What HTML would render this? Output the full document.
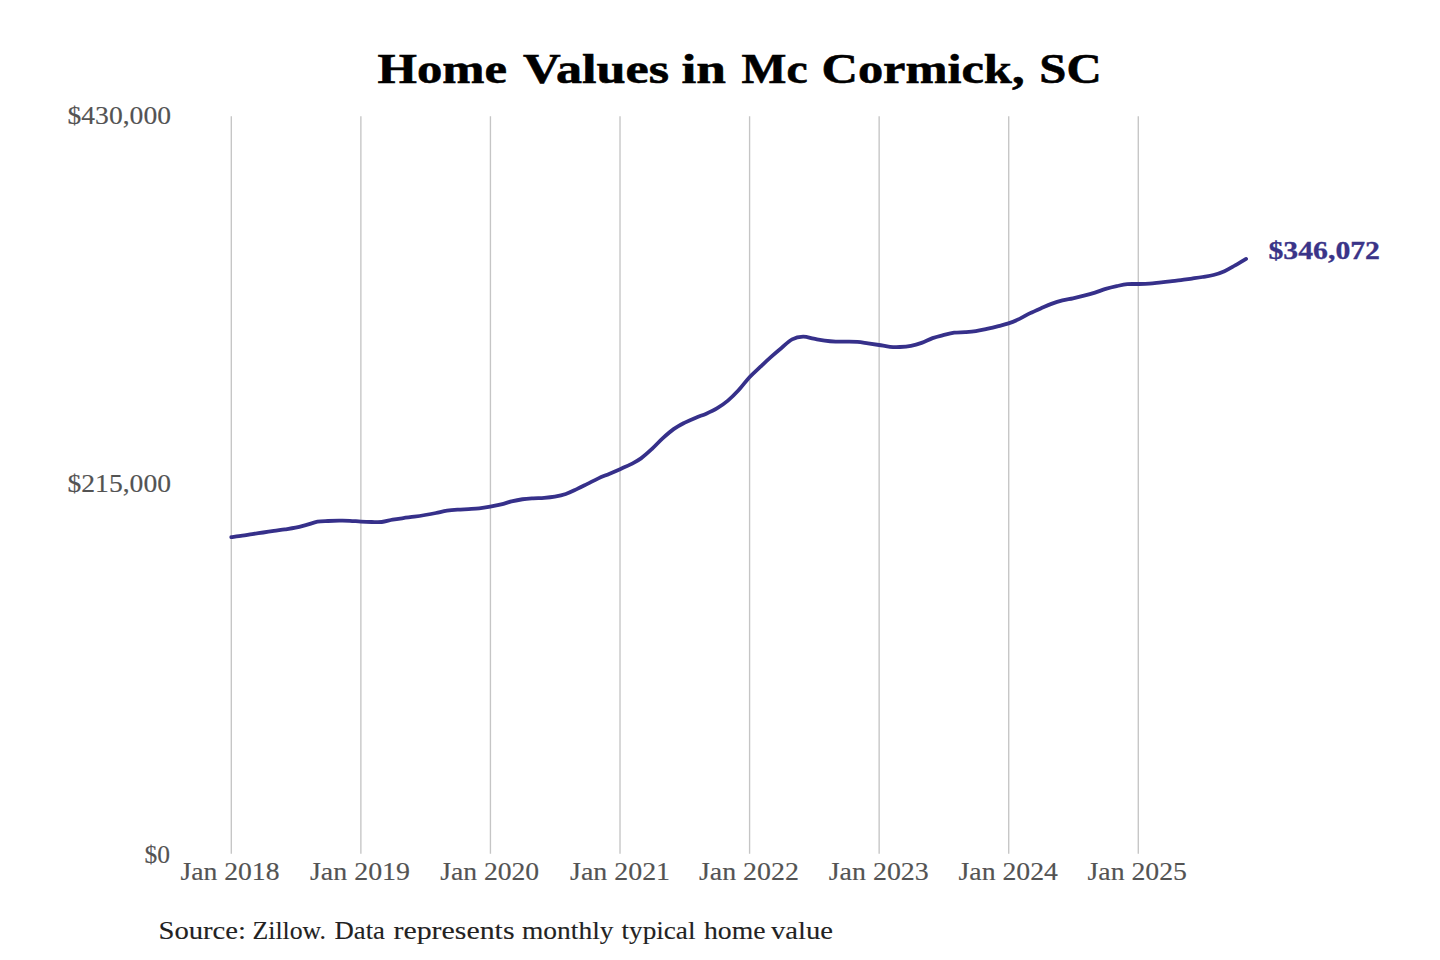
<!DOCTYPE html>
<html><head><meta charset="utf-8"><title>Home Values in Mc Cormick, SC</title><style>
html,body{margin:0;padding:0;background:#fff;width:1440px;height:960px;overflow:hidden}
svg{display:block}
text{font-family:"Liberation Serif",serif}
</style></head><body>
<svg width="1440" height="960" viewBox="0 0 1440 960">
<rect width="1440" height="960" fill="#fff"/>
<g stroke="#c5c5c5" stroke-width="1.35"><line x1="231.30" y1="116.2" x2="231.30" y2="853.8"/><line x1="360.87" y1="116.2" x2="360.87" y2="853.8"/><line x1="490.44" y1="116.2" x2="490.44" y2="853.8"/><line x1="620.01" y1="116.2" x2="620.01" y2="853.8"/><line x1="749.58" y1="116.2" x2="749.58" y2="853.8"/><line x1="879.15" y1="116.2" x2="879.15" y2="853.8"/><line x1="1008.72" y1="116.2" x2="1008.72" y2="853.8"/><line x1="1138.29" y1="116.2" x2="1138.29" y2="853.8"/></g>
<path d="M231.3,537.15 C233.1,536.91 238.8,536.21 242.3,535.70 C245.8,535.19 248.7,534.63 252.2,534.10 C255.7,533.57 259.6,533.03 263.2,532.50 C266.8,531.97 270.3,531.42 273.9,530.90 C277.5,530.38 281.3,529.93 284.9,529.40 C288.5,528.87 291.9,528.45 295.5,527.70 C299.1,526.95 302.8,525.90 306.5,524.90 C310.2,523.90 313.9,522.35 317.5,521.70 C321.1,521.05 324.5,521.17 328.1,521.00 C331.7,520.83 335.5,520.73 339.1,520.70 C342.7,520.67 346.2,520.65 349.8,520.80 C353.4,520.95 357.1,521.40 360.8,521.60 C364.4,521.80 368.3,521.93 371.8,522.00 C375.3,522.07 378.2,522.38 381.7,522.00 C385.2,521.62 389.1,520.35 392.7,519.70 C396.3,519.05 399.7,518.60 403.3,518.10 C406.9,517.60 410.7,517.22 414.3,516.70 C417.9,516.18 421.4,515.62 425.0,515.00 C428.6,514.38 432.3,513.72 436.0,513.00 C439.6,512.28 443.4,511.27 447.0,510.70 C450.6,510.13 454.0,509.87 457.6,509.60 C461.2,509.33 465.0,509.29 468.6,509.10 C472.2,508.91 475.6,508.85 479.2,508.45 C482.8,508.05 486.6,507.38 490.2,506.70 C493.9,506.02 497.7,505.28 501.2,504.40 C504.8,503.52 508.0,502.26 511.5,501.40 C515.1,500.54 518.9,499.77 522.5,499.25 C526.1,498.73 529.6,498.54 533.2,498.30 C536.8,498.06 540.5,498.08 544.2,497.80 C547.8,497.52 551.2,497.23 554.8,496.60 C558.4,495.97 562.1,495.24 565.8,494.00 C569.5,492.76 573.2,490.83 576.8,489.15 C580.4,487.47 583.8,485.69 587.4,483.90 C591.0,482.11 594.8,480.07 598.4,478.40 C602.0,476.73 605.5,475.44 609.1,473.90 C612.7,472.36 616.4,470.77 620.1,469.15 C623.7,467.52 627.6,465.94 631.1,464.15 C634.5,462.36 637.5,460.94 641.0,458.40 C644.5,455.86 648.4,452.23 652.0,448.90 C655.6,445.57 659.0,441.69 662.6,438.40 C666.2,435.11 670.0,431.73 673.6,429.15 C677.2,426.57 680.7,424.77 684.3,422.90 C687.9,421.02 691.6,419.44 695.3,417.90 C698.9,416.36 702.6,415.23 706.3,413.65 C709.9,412.07 713.3,410.57 716.9,408.40 C720.5,406.22 724.3,403.62 727.9,400.60 C731.5,397.58 734.9,394.20 738.5,390.30 C742.1,386.40 745.9,381.13 749.5,377.20 C753.2,373.27 757.0,370.00 760.5,366.70 C764.0,363.40 767.0,360.53 770.5,357.40 C773.9,354.27 777.8,350.90 781.5,347.90 C785.1,344.90 788.5,341.27 792.1,339.40 C795.7,337.52 799.5,336.77 803.1,336.65 C806.7,336.52 810.1,337.98 813.7,338.65 C817.3,339.32 821.1,340.15 824.7,340.65 C828.4,341.15 832.1,341.48 835.7,341.65 C839.3,341.82 842.8,341.61 846.4,341.65 C850.0,341.69 853.8,341.61 857.4,341.90 C861.0,342.19 864.4,342.88 868.0,343.40 C871.6,343.92 875.3,344.43 879.0,345.00 C882.7,345.57 886.5,346.47 890.0,346.80 C893.5,347.13 896.4,347.15 899.9,347.00 C903.4,346.85 907.3,346.58 910.9,345.90 C914.5,345.22 918.0,344.19 921.6,342.90 C925.2,341.61 929.0,339.44 932.6,338.15 C936.2,336.86 939.6,336.07 943.2,335.15 C946.8,334.23 950.5,333.15 954.2,332.65 C957.9,332.15 961.6,332.40 965.2,332.15 C968.8,331.90 972.2,331.69 975.8,331.15 C979.4,330.61 983.2,329.69 986.8,328.90 C990.4,328.11 993.9,327.32 997.5,326.40 C1001.1,325.48 1004.8,324.65 1008.5,323.40 C1012.1,322.15 1015.9,320.57 1019.5,318.90 C1023.0,317.23 1026.2,315.15 1029.7,313.40 C1033.3,311.65 1037.1,309.98 1040.7,308.40 C1044.4,306.82 1047.8,305.23 1051.4,303.90 C1055.0,302.57 1058.8,301.33 1062.4,300.40 C1066.0,299.47 1069.4,299.08 1073.0,298.30 C1076.6,297.52 1080.4,296.65 1084.0,295.70 C1087.7,294.75 1091.4,293.73 1095.0,292.60 C1098.6,291.47 1102.1,289.97 1105.7,288.90 C1109.3,287.82 1113.0,286.94 1116.7,286.15 C1120.3,285.36 1123.7,284.51 1127.3,284.15 C1130.9,283.79 1134.6,284.09 1138.3,284.00 C1142.0,283.91 1145.8,283.83 1149.3,283.60 C1152.8,283.37 1155.7,282.98 1159.2,282.60 C1162.7,282.22 1166.6,281.71 1170.2,281.30 C1173.8,280.89 1177.2,280.60 1180.9,280.15 C1184.5,279.70 1188.2,279.12 1191.9,278.60 C1195.5,278.07 1198.9,277.60 1202.5,277.00 C1206.1,276.40 1209.8,275.97 1213.5,275.00 C1217.2,274.03 1220.9,272.80 1224.5,271.20 C1228.1,269.60 1231.5,267.45 1235.1,265.40 C1238.7,263.35 1244.3,259.98 1246.1,258.90" fill="none" stroke="#36308a" stroke-width="3.8" stroke-linejoin="round" stroke-linecap="round"/>
<text x="377.50" y="82.8" font-size="43" font-weight="bold" fill="#000" stroke="#000" stroke-width="0.6" textLength="129.50" lengthAdjust="spacingAndGlyphs">Home</text>
<text x="523.00" y="82.8" font-size="43" font-weight="bold" fill="#000" stroke="#000" stroke-width="0.6" textLength="146.00" lengthAdjust="spacingAndGlyphs">Values</text>
<text x="681.51" y="82.8" font-size="43" font-weight="bold" fill="#000" stroke="#000" stroke-width="0.6" textLength="44.49" lengthAdjust="spacingAndGlyphs">in</text>
<text x="741.50" y="82.8" font-size="43" font-weight="bold" fill="#000" stroke="#000" stroke-width="0.6" textLength="66.01" lengthAdjust="spacingAndGlyphs">Mc</text>
<text x="821.48" y="82.8" font-size="43" font-weight="bold" fill="#000" stroke="#000" stroke-width="0.6" textLength="203.04" lengthAdjust="spacingAndGlyphs">Cormick,</text>
<text x="1039.39" y="82.8" font-size="43" font-weight="bold" fill="#000" stroke="#000" stroke-width="0.6" textLength="62.29" lengthAdjust="spacingAndGlyphs">SC</text>
<text x="158.47" y="939.1" font-size="25" fill="#222" stroke="#222" stroke-width="0.12" textLength="87.56" lengthAdjust="spacingAndGlyphs">Source:</text>
<text x="252.50" y="939.1" font-size="25" fill="#222" stroke="#222" stroke-width="0.12" textLength="73.50" lengthAdjust="spacingAndGlyphs">Zillow.</text>
<text x="334.51" y="939.1" font-size="25" fill="#222" stroke="#222" stroke-width="0.12" textLength="50.48" lengthAdjust="spacingAndGlyphs">Data</text>
<text x="393.50" y="939.1" font-size="25" fill="#222" stroke="#222" stroke-width="0.12" textLength="121.00" lengthAdjust="spacingAndGlyphs">represents</text>
<text x="522.00" y="939.1" font-size="25" fill="#222" stroke="#222" stroke-width="0.12" textLength="91.50" lengthAdjust="spacingAndGlyphs">monthly</text>
<text x="621.50" y="939.1" font-size="25" fill="#222" stroke="#222" stroke-width="0.12" textLength="74.00" lengthAdjust="spacingAndGlyphs">typical</text>
<text x="704.01" y="939.1" font-size="25" fill="#222" stroke="#222" stroke-width="0.12" textLength="61.48" lengthAdjust="spacingAndGlyphs">home</text>
<text x="771.00" y="939.1" font-size="25" fill="#222" stroke="#222" stroke-width="0.12" textLength="61.99" lengthAdjust="spacingAndGlyphs">value</text>
<text x="67.50" y="124.1" font-size="25" fill="#535353" stroke="#535353" stroke-width="0.15" textLength="103.50" lengthAdjust="spacingAndGlyphs">$430,000</text>
<text x="67.50" y="492.0" font-size="25" fill="#535353" stroke="#535353" stroke-width="0.15" textLength="103.50" lengthAdjust="spacingAndGlyphs">$215,000</text>
<text x="144.49" y="863.3" font-size="25" fill="#535353" stroke="#535353" stroke-width="0.15" textLength="25.52" lengthAdjust="spacingAndGlyphs">$0</text>
<text x="1268.51" y="259.0" font-size="25" font-weight="bold" fill="#3a3488" stroke="#3a3488" stroke-width="0.3" textLength="111.49" lengthAdjust="spacingAndGlyphs">$346,072</text>
<text x="180.50" y="879.7" font-size="25" fill="#535353" stroke="#535353" stroke-width="0.15" textLength="98.99" lengthAdjust="spacingAndGlyphs">Jan 2018</text>
<text x="310.00" y="879.7" font-size="25" fill="#535353" stroke="#535353" stroke-width="0.15" textLength="100.00" lengthAdjust="spacingAndGlyphs">Jan 2019</text>
<text x="440.20" y="879.7" font-size="25" fill="#535353" stroke="#535353" stroke-width="0.15" textLength="98.99" lengthAdjust="spacingAndGlyphs">Jan 2020</text>
<text x="570.05" y="879.7" font-size="25" fill="#535353" stroke="#535353" stroke-width="0.15" textLength="100.00" lengthAdjust="spacingAndGlyphs">Jan 2021</text>
<text x="698.90" y="879.7" font-size="25" fill="#535353" stroke="#535353" stroke-width="0.15" textLength="100.00" lengthAdjust="spacingAndGlyphs">Jan 2022</text>
<text x="828.75" y="879.7" font-size="25" fill="#535353" stroke="#535353" stroke-width="0.15" textLength="100.00" lengthAdjust="spacingAndGlyphs">Jan 2023</text>
<text x="958.50" y="879.7" font-size="25" fill="#535353" stroke="#535353" stroke-width="0.15" textLength="99.50" lengthAdjust="spacingAndGlyphs">Jan 2024</text>
<text x="1087.50" y="879.7" font-size="25" fill="#535353" stroke="#535353" stroke-width="0.15" textLength="99.49" lengthAdjust="spacingAndGlyphs">Jan 2025</text>
</svg>
</body></html>
